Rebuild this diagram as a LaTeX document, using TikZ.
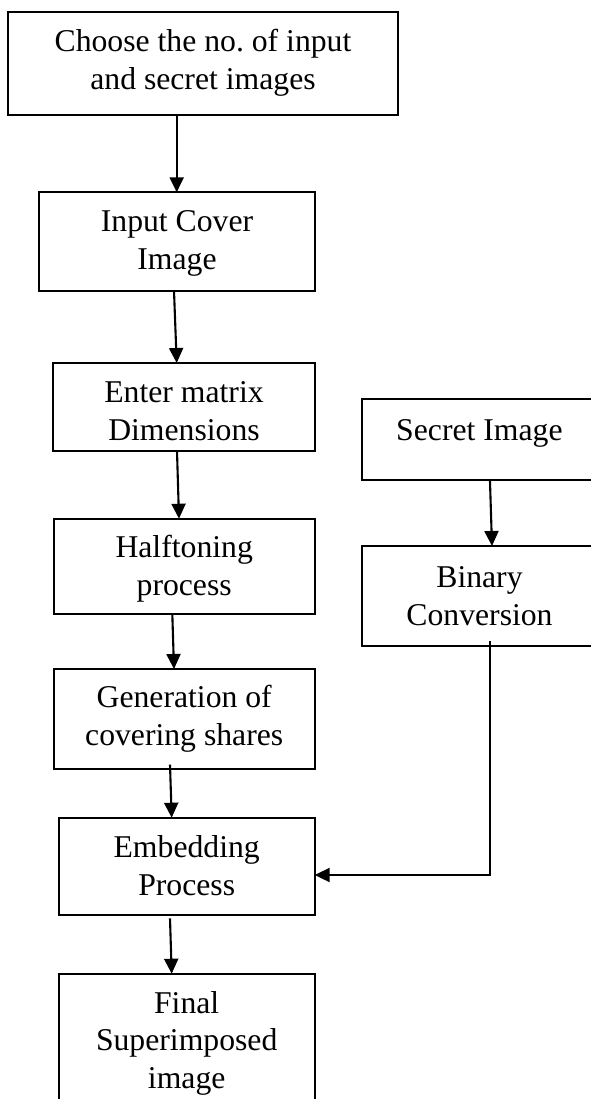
\documentclass[tikz,border=0pt]{standalone}
\usepackage{fontspec}
\setmainfont{Liberation Serif}
\usetikzlibrary{arrows.meta}
\begin{document}
\begin{tikzpicture}[x=1pt,y=-1pt,
  box/.style={draw, line width=1.7pt, inner sep=0pt, outer sep=0pt},
  txt/.style={align=center, inner sep=0pt, font=\fontsize{31.7}{37.5}\selectfont},
  arr/.style={-{Triangle[length=15pt,width=14pt]}, line width=2.1pt}]
\useasboundingbox (0,0) rectangle (590,1099);
% boxes
\node[box, minimum width=390pt, minimum height=103pt] (b1) at (203,63.5) {};
\node[box, minimum width=275.4pt, minimum height=98.7pt] (b2) at (177,241.65) {};
\node[box, minimum width=261.4pt, minimum height=88pt] (b3) at (184,407) {};
\node[box, minimum width=261pt, minimum height=95pt] (b4) at (184.2,566.2) {};
\node[box, minimum width=261pt, minimum height=99.7pt] (b5) at (184.2,718.85) {};
\node[box, minimum width=256pt, minimum height=97.6pt] (b6) at (186.7,866.5) {};
\node[box, minimum width=256pt, minimum height=141.3pt] (b7) at (186.7,1044.35) {};
\node[box, minimum width=235.3pt, minimum height=81pt] (s1) at (479.35,439.5) {};
\node[box, minimum width=235pt, minimum height=100pt] (s2) at (479.5,596) {};
% texts
\node[txt] (t1) at (203,63) {\strut Choose the no.\ of input\\\strut and secret images};
\node[txt] (t2) at (177,243) {\strut Input Cover\\\strut Image};
\node[txt] (t3) at (184,414) {\strut Enter matrix\\\strut Dimensions};
\node[txt] (t4) at (184.2,569) {\strut Halftoning\\\strut process};
\node[txt] (t5) at (184.2,719) {\strut Generation of\\\strut covering shares};
\node[txt] (t6) at (186.7,869) {\strut Embedding\\\strut Process};
\node[txt] (t7) at (186.7,1043) {\strut Final\\\strut Superimposed\\\strut image};
\node[txt] (t8) at (479.4,432.5) {\strut Secret Image};
\node[txt] (t9) at (479.5,599) {\strut Binary\\\strut Conversion};
% connectors
\draw[arr] ([xshift=-26.3pt]b1.south) -- ([xshift=-0.3pt]b2.north);
\draw[arr] ([xshift=-3pt]b2.south) -- ([xshift=-7.3pt]b3.north);
\draw[arr] ([xshift=-7pt]b3.south) -- ([xshift=-5.2pt]b4.north);
\draw[arr] ([xshift=-11.9pt]b4.south) -- ([xshift=-10.2pt]b5.north);
\draw[arr] ([xshift=-14.2pt,yshift=4pt]b5.south) -- ([xshift=-15pt]b6.north);
\draw[arr] ([xshift=-16.7pt,yshift=-3pt]b6.south) -- ([xshift=-15pt]b7.north);
\draw[arr] ([xshift=10.6pt]s1.south) -- ([xshift=12.5pt]s2.north);
\draw[arr] ([xshift=10.5pt,yshift=5pt]s2.south) |- ([yshift=-8.5pt]b6.east);
\end{tikzpicture}
\end{document}
